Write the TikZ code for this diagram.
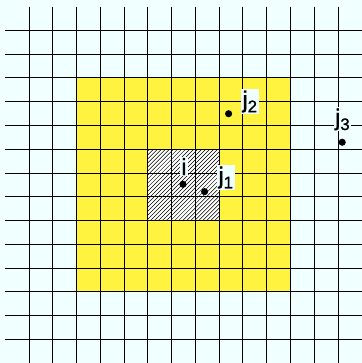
\documentclass[tikz,border=0pt]{standalone}
\usepackage{fontspec}
\setmainfont{Liberation Sans}
\newfontfamily\lblfam{Liberation Sans}[BoldFont=Liberation Sans, BoldFeatures={FakeBold=1.2}]
\usetikzlibrary{patterns.meta}
\definecolor{paleazure}{HTML}{F0FFFF}
\definecolor{cellyellow}{HTML}{FFF340}
\newcommand{\lblfont}{\lblfam\bfseries\fontsize{28pt}{30pt}\selectfont}
\newcommand{\sublbl}[1]{\raisebox{-0.2em}{\fontsize{20pt}{20pt}\selectfont #1}}

\begin{document}
\begin{tikzpicture}[
  gridline/.style={line width=0.9pt, black},
  dot/.style={circle, fill=black, inner sep=0pt, minimum size=3mm},
  lbl/.style={fill=paleazure, inner xsep=2pt, inner ysep=1.5pt, anchor=base, font=\lblfont}]
\useasboundingbox[fill=paleazure] (-1.22,-14.0) rectangle (14.0,1.275);
% neighbourhood and own cell
\fill[cellyellow] (2,-2) rectangle (11,-11);
\fill[white] (5,-5) rectangle (8,-8);
\fill[pattern={Lines[angle=45, distance=3.4pt, line width=0.6pt]}] (5,-5) rectangle (8,-8);
% grid
\foreach \k in {0,...,13} {
  \draw[gridline] (\k,1) -- (\k,-14);
  \draw[gridline] (-1,-\k) -- (14,-\k);
}
% particles
\node[dot] (i) at (6.48,-6.48) {};
\node[dot] (j1) at (7.39,-6.79) {};
\node[dot] (j2) at (8.40,-3.51) {};
\node[dot] (j3) at (13.18,-4.71) {};
\node[lbl] (li) at (6.52,-6.09) {i};
\node[lbl] (lj1) at (8.28,-6.45) {j\sublbl{1}};
\node[lbl] (lj2) at (9.29,-3.25) {j\sublbl{2}};
\node[lbl] (lj3) at (13.19,-4.0) {j\sublbl{3}};
\end{tikzpicture}
\end{document}
